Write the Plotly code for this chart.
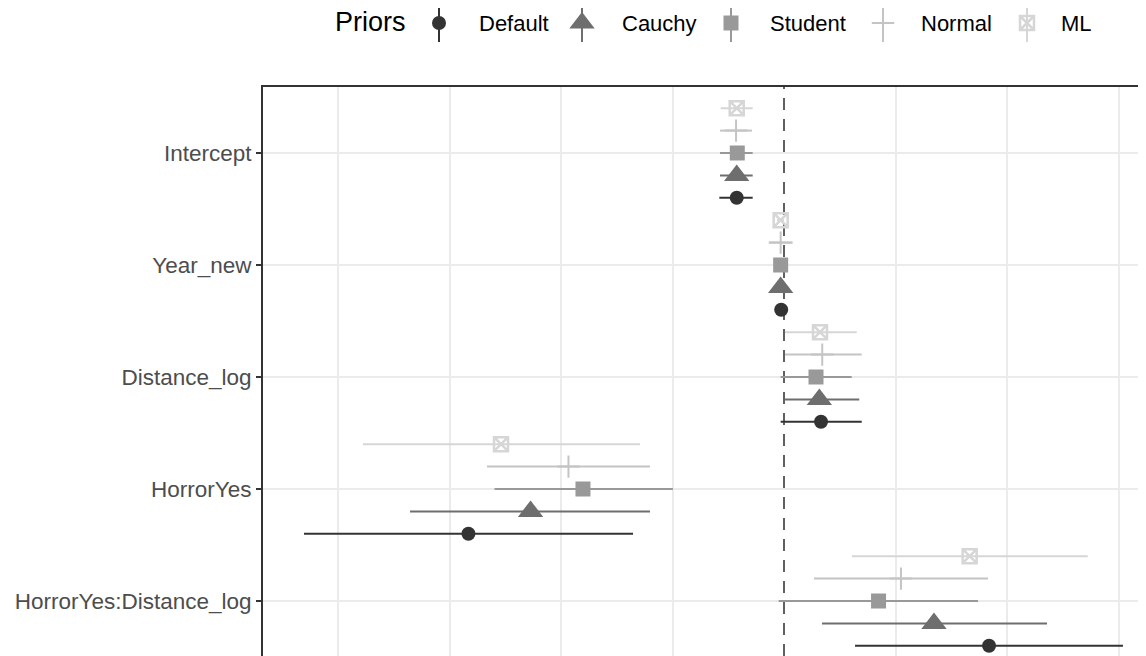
import plotly.graph_objects as go

# ---------------- data ----------------
terms = ["Intercept", "Year_new", "Distance_log", "HorrorYes", "HorrorYes:Distance_log"]
priors = ["Default", "Cauchy", "Student", "Normal", "ML"]

est_default = [-0.424, -0.025, 0.332, -2.830, 1.839]
lo_default = [-0.580, -0.055, -0.030, -4.305, 0.637]
hi_default = [-0.281, 0.005, 0.697, -1.354, 3.040]

est_cauchy = [-0.424, -0.030, 0.317, -2.273, 1.345]
lo_cauchy = [-0.574, -0.055, 0.009, -3.354, 0.341]
hi_cauchy = [-0.281, -0.005, 0.675, -1.202, 2.359]

est_student = [-0.419, -0.030, 0.287, -1.803, 0.848]
lo_student = [-0.574, -0.055, -0.030, -2.596, -0.048]
hi_student = [-0.281, -0.005, 0.607, -0.996, 1.740]

est_normal = [-0.430, -0.030, 0.343, -1.933, 1.049]
lo_normal = [-0.574, -0.137, 0.009, -2.664, 0.269]
hi_normal = [-0.287, 0.078, 0.697, -1.202, 1.830]

est_ml = [-0.424, -0.030, 0.323, -2.538, 1.665]
lo_ml = [-0.568, -0.063, 0.009, -3.776, 0.610]
hi_ml = [-0.281, 0.000, 0.652, -1.291, 2.724]

series = {
    "Default": (est_default, lo_default, hi_default),
    "Cauchy": (est_cauchy, lo_cauchy, hi_cauchy),
    "Student": (est_student, lo_student, hi_student),
    "Normal": (est_normal, lo_normal, hi_normal),
    "ML": (est_ml, lo_ml, hi_ml),
}

# ---------------- styles ----------------
colors = {"Default": "#333333", "Cauchy": "#6e6e6e", "Student": "#999999",
          "Normal": "#c4c4c4", "ML": "#d6d6d6"}
symbols = {"Default": "circle", "Cauchy": "triangle-up", "Student": "square",
           "Normal": "cross-thin", "ML": "square-x-open"}
msizes = {"Default": 14, "Cauchy": 22, "Student": 15, "Normal": 16, "ML": 14}
mline = {"Default": 0, "Cauchy": 0, "Student": 0, "Normal": 2, "ML": 2.5}
dodge = {"Default": -0.4, "Cauchy": -0.2, "Student": 0.0, "Normal": 0.2, "ML": 0.4}

FONT = "Liberation Sans, Arial, sans-serif"
n = len(terms)
row_pos = [n - i for i in range(n)]
grid_x = [-4, -3, -2, -1, 1, 2, 3]

# page geometry (page is offset by the 8px body margin)
OFF = 8
PW, PH = 1146, 656          # visible window
W, H = PW - OFF, PH - OFF   # figure size so it ends at the window edge
PL, PT = 263, 87            # panel left / top on the page
YTOP = (H - (PT - OFF)) / H

fig = go.Figure()

for p in priors:
    est, lo, hi = series[p]
    ys = [r + dodge[p] for r in row_pos]
    fig.add_trace(go.Scatter(
        x=est, y=ys, mode="markers", name=p, showlegend=False,
        marker=dict(symbol=symbols[p], size=msizes[p], color=colors[p],
                    line=dict(width=mline[p], color=colors[p])),
        error_x=dict(type="data", symmetric=False,
                     array=[h - e for h, e in zip(hi, est)],
                     arrayminus=[e - l for e, l in zip(est, lo)],
                     color=colors[p], thickness=2, width=0),
    ))

# ---------------- custom legend on a pixel-scaled overlay subplot ----------------
legend_glyph_x = {"Default": 439, "Cauchy": 582, "Student": 731, "Normal": 883, "ML": 1027}
legend_text_x = {"Default": 477, "Cauchy": 620, "Student": 768, "Normal": 919, "ML": 1059}
LEG_Y = 23

for p in priors:
    fig.add_trace(go.Scatter(
        x=[legend_glyph_x[p]], y=[LEG_Y], xaxis="x3", yaxis="y3",
        mode="markers", showlegend=False, hoverinfo="skip",
        marker=dict(symbol=symbols[p], size=msizes[p], color=colors[p],
                    line=dict(width=mline[p], color=colors[p])),
        error_y=dict(type="data", symmetric=False, array=[19], arrayminus=[18],
                     color=colors[p], thickness=2, width=0),
    ))

annotations = []
for p in priors:
    annotations.append(dict(text=p, xref="x3", yref="y3",
                            x=legend_text_x[p], y=LEG_Y,
                            xanchor="left", yanchor="middle", showarrow=False,
                            font=dict(family=FONT, size=22, color="#000000")))
annotations.append(dict(text="Priors", xref="x3", yref="y3",
                        x=333, y=LEG_Y - 1, xanchor="left", yanchor="middle",
                        showarrow=False, font=dict(family=FONT, size=27, color="#000000")))

# zero reference line
shapes = [dict(type="line", xref="x", yref="paper", x0=0, x1=0, y0=0, y1=YTOP,
               line=dict(color="#606060", width=2, dash="12px,9px"), layer="below")]

XMIN = -(784 - PL) / 111.5
XMAX = (PW - 784) / 111.5
YMIN = 1 - (656 - 601) / 112
YMAX = 5 + (153 - 87) / 112

fig.update_layout(
    width=W, height=H,
    margin=dict(l=0, r=0, t=0, b=0, pad=0, autoexpand=False),
    paper_bgcolor="white", plot_bgcolor="rgba(0,0,0,0)",
    font=dict(family=FONT),
    shapes=shapes, annotations=annotations,
    xaxis=dict(domain=[(PL - OFF) / W, 1], range=[XMIN, XMAX], tickvals=grid_x,
               showgrid=True, gridcolor="#ebebeb", gridwidth=1.5, zeroline=False,
               showticklabels=False, ticks="", side="top", anchor="y",
               showline=True, linecolor="#333333", linewidth=2),
    yaxis=dict(domain=[0, YTOP], range=[YMIN, YMAX],
               tickvals=row_pos, ticktext=terms, anchor="x",
               showgrid=True, gridcolor="#ebebeb", gridwidth=1.5, zeroline=False,
               ticks="outside", ticklen=5, tickwidth=1.5, tickcolor="#333333",
               tickfont=dict(family=FONT, size=22.5, color="#4d4d4d"),
               showline=True, linecolor="#333333", linewidth=2),
    xaxis3=dict(domain=[0, 1], range=[OFF, PW], visible=False, anchor="y3",
                fixedrange=True),
    yaxis3=dict(domain=[0, 1], range=[PH, OFF], visible=False, anchor="x3",
                fixedrange=True),
)

fig.write_html("out.html")
